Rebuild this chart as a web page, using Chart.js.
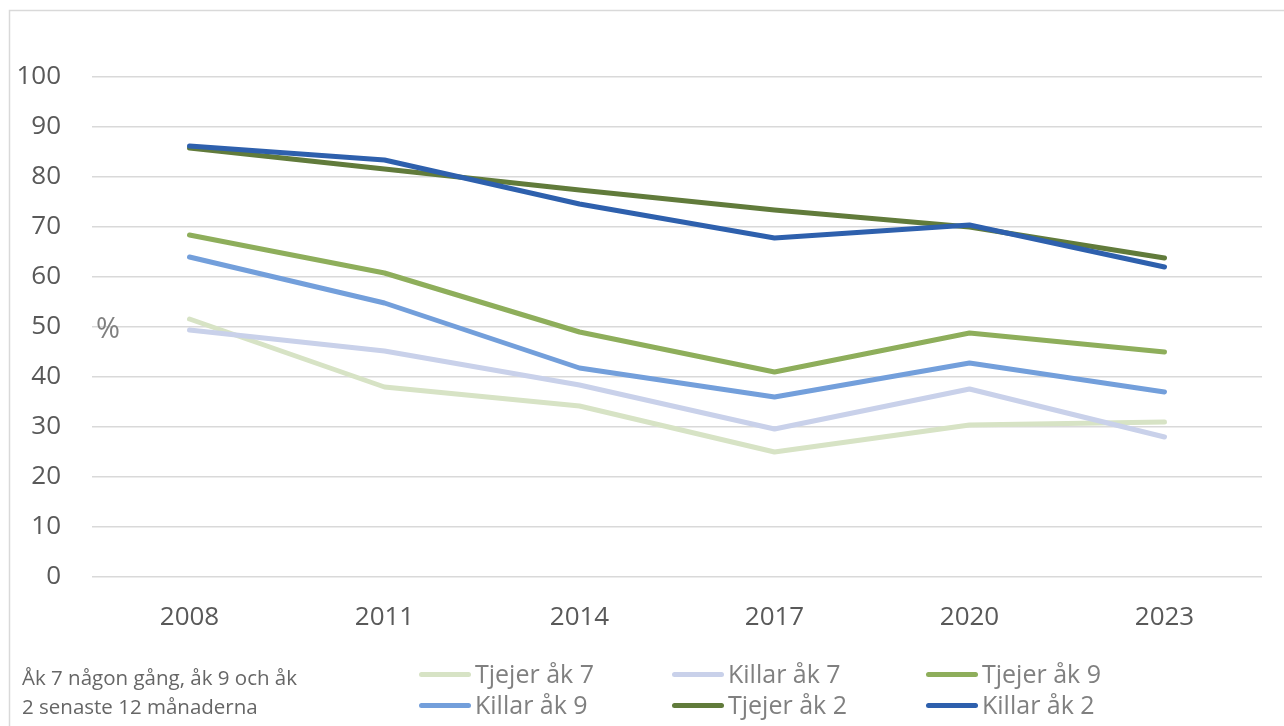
<!DOCTYPE html>
<html><head><meta charset="utf-8">
<script src="https://cdn.jsdelivr.net/npm/chart.js@4.4.1/dist/chart.umd.min.js"></script>
<style>
html,body{margin:0;padding:0;background:#fff;}
#wrap{position:relative;width:1284px;height:726px;overflow:hidden;}
#c{position:absolute;left:0;top:0;}
.note{position:absolute;left:22px;top:663px;font-family:"Open Sans",sans-serif;font-size:20.5px;line-height:29px;color:#666;}
.pct{position:absolute;left:96px;top:307px;font-family:"Open Sans",sans-serif;font-size:29px;color:#808080;}
.lg{position:absolute;font-family:"Liberation Sans Narrow","Open Sans",sans-serif;font-size:25px;color:#808080;white-space:nowrap;}
.lg span.sw{display:inline-block;width:52px;height:5px;border-radius:3px;vertical-align:middle;margin-right:4px;position:relative;top:-2px;}
</style></head>
<body><div id="wrap"><canvas id="c" width="1284" height="726"></canvas>
<div class="pct">%</div>
<div class="note">Åk 7 någon gång, åk 9 och åk<br>2 senaste 12 månaderna</div>
<div id="legend"></div>
</div>
<script>
const years = ["2008","2011","2014","2017","2020","2023"];
const yTicks = [0,10,20,30,40,50,60,70,80,90,100];
const seriesNames = ["Tjejer åk 7","Killar åk 7","Tjejer åk 9","Killar åk 9","Tjejer åk 2","Killar åk 2"];
const tjejerAk7 = [51.6, 38.0, 34.2, 25.0, 30.4, 31.0];
const killarAk7 = [49.4, 45.2, 38.4, 29.6, 37.6, 28.0];
const tjejerAk9 = [68.4, 60.8, 49.0, 41.0, 48.8, 45.0];
const killarAk9 = [64.0, 54.8, 41.8, 36.0, 42.8, 37.0];
const tjejerAk2 = [85.8, 81.6, 77.4, 73.4, 70.0, 63.8];
const killarAk2 = [86.2, 83.4, 74.6, 67.8, 70.4, 62.0];
const seriesValues = [tjejerAk7, killarAk7, tjejerAk9, killarAk9, tjejerAk2, killarAk2];
const colors = ["#d7e3c5","#c9d1ea","#8eae5b","#739fdb","#617b3b","#2e60ad"];

const datasets = seriesNames.map((n,i)=>({
  label:n, data:seriesValues[i], borderColor:colors[i], backgroundColor:colors[i],
  borderWidth:5, pointRadius:0, tension:0, borderCapStyle:'round', borderJoinStyle:'round',
  order: seriesNames.length-1-i
}));

// HTML legend built from datasets
const lg = document.getElementById('legend');
const colX=[419,672,926], rowY=[656,687];
datasets.forEach((d,i)=>{
  const el=document.createElement('div'); el.className='lg';
  el.style.left=colX[i%3]+'px'; el.style.top=rowY[Math.floor(i/3)]+'px';
  el.innerHTML='<span class="sw" style="background:'+d.borderColor+'"></span>'+d.label;
  lg.appendChild(el);
});

const frame = {id:'frame', beforeDraw(chart){const c=chart.ctx; c.save(); c.strokeStyle='#d9d9d9'; c.lineWidth=1.5; c.strokeRect(9.5,10.5,1300,760); c.restore();}};

new Chart(document.getElementById('c'),{
  type:'line',
  data:{labels:years, datasets},
  plugins:[frame],
  options:{
    responsive:false, animation:false,
    layout:{padding:{left:0,right:22,top:77,bottom:0}},
    plugins:{legend:{display:false}, tooltip:{enabled:false}},
    scales:{
      x:{offset:true, grid:{display:false,drawTicks:false}, border:{display:false},
         ticks:{font:{family:'"Open Sans"',size:26},color:'#595959',padding:25},
         afterFit(s){s.height=149;}},
      y:{min:0,max:100, afterBuildTicks(s){s.ticks=yTicks.map(v=>({value:v}));},
         grid:{color:'#d9d9d9',lineWidth:1.5,drawTicks:false}, border:{display:false},
         ticks:{font:{family:'"Open Sans"',size:26},color:'#595959',padding:31},
         afterFit(s){s.width=92;}}
    }
  }
});
</script></body></html>
